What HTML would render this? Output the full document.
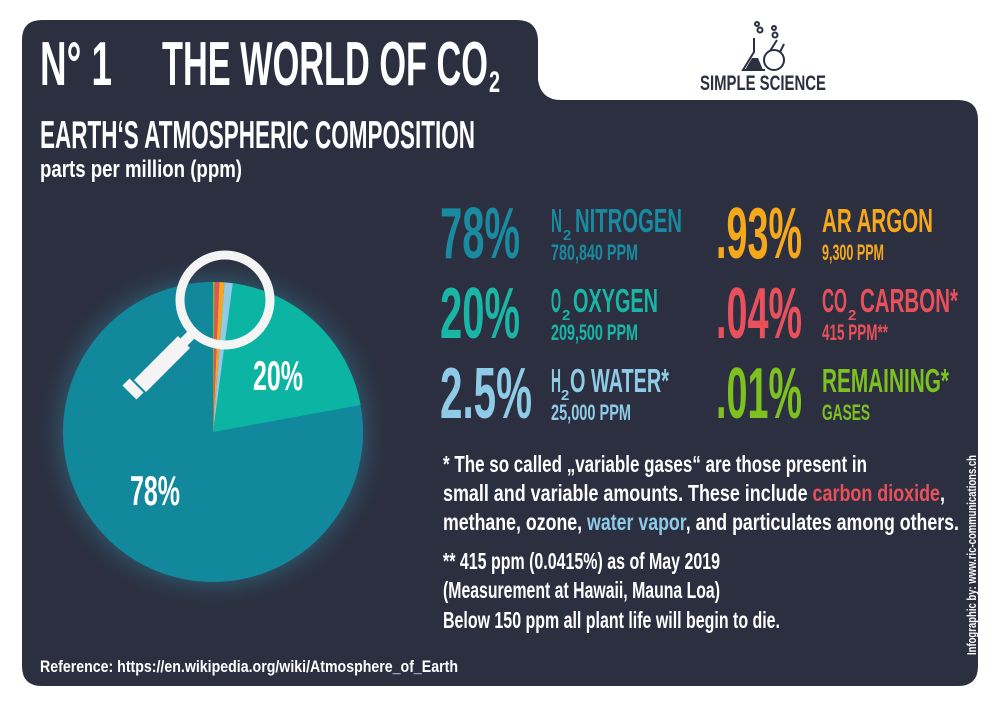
<!DOCTYPE html>
<html><head><meta charset="utf-8"><style>
html,body{margin:0;padding:0;background:#fff;width:1000px;height:706px;overflow:hidden}
text{font-family:"Liberation Sans Narrow","Liberation Sans",sans-serif;font-weight:bold}
</style></head><body>
<svg width="1000" height="706" viewBox="0 0 1000 706" xmlns="http://www.w3.org/2000/svg">
<defs>
<radialGradient id="glow" cx="0.5" cy="0.5" r="0.5">
<stop offset="0.8" stop-color="#2f5a6e" stop-opacity="0.9"/>
<stop offset="1" stop-color="#2b2f40" stop-opacity="0"/>
</radialGradient>
</defs>
<rect width="1000" height="706" fill="#fff"/>
<path d="M42,20 H517 Q537,20 538,40 V80 Q541,100 561,100 H958 Q978,100 978,120 V666 Q978,686 958,686 H42 Q22,686 22,666 V40 Q22,20 42,20 Z" fill="#2b2f40"/>

<!-- title -->
<g fill="#fff">
<text x="40" y="85" font-size="62" textLength="72" lengthAdjust="spacingAndGlyphs">N° 1</text>
<text x="162" y="85" font-size="62" textLength="326" lengthAdjust="spacingAndGlyphs">THE WORLD OF CO</text>
<text x="489" y="92" font-size="30" textLength="11" lengthAdjust="spacingAndGlyphs">2</text>
<text x="40" y="148" font-size="39" textLength="435" lengthAdjust="spacingAndGlyphs">EARTH‘S ATMOSPHERIC COMPOSITION</text>
<text x="40" y="177" font-size="24" textLength="202" lengthAdjust="spacingAndGlyphs">parts per million (ppm)</text>
</g>

<!-- logo -->
<g stroke="#2b2f40" stroke-width="2" fill="none">
<circle cx="757" cy="24" r="2"/><circle cx="760" cy="30" r="2.5"/>
<circle cx="774" cy="28" r="2"/><circle cx="775" cy="35" r="2.5"/>
<path d="M754,38 V52 L743,70 H765"/>
<circle cx="774" cy="60" r="10"/>
<path d="M770,51 L777,40 M780,52 L784,44"/>
</g>
<path d="M745,70 L752,58 H758 L763,70 Z" fill="#2b2f40"/>
<text x="700" y="90" font-size="21" fill="#2b2f40" textLength="126" lengthAdjust="spacingAndGlyphs">SIMPLE SCIENCE</text>

<!-- pie -->
<circle cx="213" cy="432" r="180" fill="url(#glow)"/>
<circle cx="213" cy="432" r="150" fill="#12889d"/>
<path d="M213,432 L232.8,283.3 A150,150 0 0,1 360.6,405.0 Z" fill="#0cb5a3"/>
<path d="M213,432 L224.5,282.4 A150,150 0 0,1 232.8,283.3 Z" fill="#8fcbe6"/>
<path d="M213,432 L219.3,282.1 A150,150 0 0,1 224.5,282.4 Z" fill="#f5a81c"/>
<path d="M213,432 L214.6,282.0 A150,150 0 0,1 219.3,282.1 Z" fill="#e8505b"/>
<path d="M213,432 L213,282 A150,150 0 0,1 214.6,282.0 Z" fill="#7cc11f"/>
<!-- magnifier -->
<circle cx="225" cy="300" r="45" fill="none" stroke="#f4f4f4" stroke-width="9"/>
<line x1="196" y1="330" x2="182" y2="344" stroke="#f4f4f4" stroke-width="10"/>
<line x1="184" y1="342" x2="140" y2="386" stroke="#f4f4f4" stroke-width="17"/>
<line x1="126" y1="382" x2="140" y2="396" stroke="#f4f4f4" stroke-width="10"/>
<text x="253" y="390" font-size="42" fill="#fff" textLength="50" lengthAdjust="spacingAndGlyphs">20%</text>
<text x="130" y="505" font-size="42" fill="#fff" textLength="50" lengthAdjust="spacingAndGlyphs">78%</text>

<!-- stats left -->
<g fill="#1a8aa0">
<text x="440" y="258" font-size="72" textLength="80" lengthAdjust="spacingAndGlyphs">78%</text>
<text x="551" y="232" font-size="33" textLength="11" lengthAdjust="spacingAndGlyphs">N</text>
<text x="563" y="240" font-size="15">2</text>
<text x="575" y="232" font-size="33" textLength="107" lengthAdjust="spacingAndGlyphs">NITROGEN</text>
<text x="551" y="260" font-size="22" textLength="87" lengthAdjust="spacingAndGlyphs">780,840 PPM</text>
</g>
<g fill="#19b5a5">
<text x="440" y="338" font-size="72" textLength="80" lengthAdjust="spacingAndGlyphs">20%</text>
<text x="551" y="312" font-size="33" textLength="10" lengthAdjust="spacingAndGlyphs">O</text>
<text x="562" y="320" font-size="15">2</text>
<text x="573" y="312" font-size="33" textLength="85" lengthAdjust="spacingAndGlyphs">OXYGEN</text>
<text x="551" y="340" font-size="22" textLength="87" lengthAdjust="spacingAndGlyphs">209,500 PPM</text>
</g>
<g fill="#8fcbe6">
<text x="440" y="418" font-size="72" textLength="92" lengthAdjust="spacingAndGlyphs">2.5%</text>
<text x="551" y="392" font-size="33" textLength="10" lengthAdjust="spacingAndGlyphs">H</text>
<text x="561" y="400" font-size="15">2</text>
<text x="570" y="392" font-size="33" textLength="99" lengthAdjust="spacingAndGlyphs">O WATER*</text>
<text x="551" y="420" font-size="22" textLength="80" lengthAdjust="spacingAndGlyphs">25,000 PPM</text>
</g>
<!-- stats right -->
<g fill="#f5a81c">
<text x="716" y="258" font-size="72" textLength="86" lengthAdjust="spacingAndGlyphs">.93%</text>
<text x="822" y="232" font-size="33" textLength="111" lengthAdjust="spacingAndGlyphs">AR  ARGON</text>
<text x="822" y="260" font-size="22" textLength="62" lengthAdjust="spacingAndGlyphs">9,300 PPM</text>
</g>
<g fill="#e8505b">
<text x="716" y="338" font-size="72" textLength="86" lengthAdjust="spacingAndGlyphs">.04%</text>
<text x="822" y="312" font-size="33" textLength="25" lengthAdjust="spacingAndGlyphs">CO</text>
<text x="848" y="320" font-size="15">2</text>
<text x="860" y="312" font-size="33" textLength="98" lengthAdjust="spacingAndGlyphs">CARBON*</text>
<text x="822" y="340" font-size="22" textLength="66" lengthAdjust="spacingAndGlyphs">415 PPM**</text>
</g>
<g fill="#7cc11f">
<text x="716" y="418" font-size="72" textLength="86" lengthAdjust="spacingAndGlyphs">.01%</text>
<text x="822" y="392" font-size="33" textLength="127" lengthAdjust="spacingAndGlyphs">REMAINING*</text>
<text x="822" y="420" font-size="22" textLength="48" lengthAdjust="spacingAndGlyphs">GASES</text>
</g>

<!-- notes -->
<g fill="#fff" font-size="23">
<text x="443" y="472" textLength="424" lengthAdjust="spacingAndGlyphs">* The so called „variable gases“ are those present in</text>
<text x="443" y="501" textLength="502" lengthAdjust="spacingAndGlyphs">small and variable amounts. These include <tspan fill="#e8505b">carbon dioxide</tspan>,</text>
<text x="443" y="530" textLength="516" lengthAdjust="spacingAndGlyphs">methane, ozone, <tspan fill="#8fcbe6">water vapor</tspan>, and particulates among others.</text>
<text x="443" y="569" textLength="277" lengthAdjust="spacingAndGlyphs">** 415 ppm (0.0415%) as of May 2019</text>
<text x="443" y="598" textLength="277" lengthAdjust="spacingAndGlyphs">(Measurement at Hawaii, Mauna Loa)</text>
<text x="443" y="628" textLength="337" lengthAdjust="spacingAndGlyphs">Below 150 ppm all plant life will begin to die.</text>
<text x="40" y="672" font-size="17" textLength="418" lengthAdjust="spacingAndGlyphs">Reference: https://en.wikipedia.org/wiki/Atmosphere_of_Earth</text>
<text transform="translate(976,655) rotate(-90)" font-size="13" textLength="200" lengthAdjust="spacingAndGlyphs">Infographic by: www.ric-communications.ch</text>
</g>
</svg>
</body></html>
